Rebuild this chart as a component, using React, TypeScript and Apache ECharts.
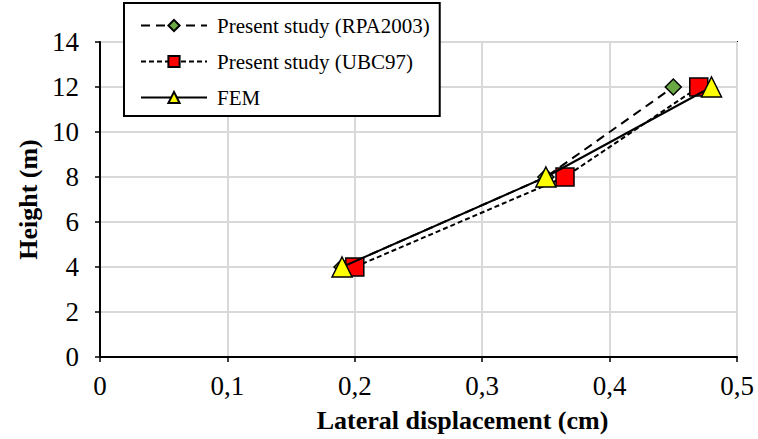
import React, { useEffect, useRef } from "react";
import * as echarts from "echarts";

const heights = [4, 8, 12];
const rpa2003 = [0.19, 0.35, 0.45];
const ubc97 = [0.2, 0.365, 0.47];
const fem = [0.19, 0.35, 0.48];
const xTicks = ["0", "0,1", "0,2", "0,3", "0,4", "0,5"];

const FONT = "Liberation Serif, serif";

export default function App() {
  const ref = useRef<HTMLDivElement>(null);
  useEffect(() => {
    if (!ref.current) return;
    const chart = echarts.init(ref.current, undefined, { renderer: "svg" });
    const pair = (xs: number[]) => xs.map((x, i) => [x, heights[i]]);
    chart.setOption({
      animation: false,
      backgroundColor: "#ffffff",
      textStyle: { fontFamily: FONT },
      grid: {
        left: 100,
        right: 21,
        top: 42,
        bottom: 82,
        show: true,
        borderColor: "#000",
        borderWidth: 2,
      },
      legend: {
        orient: "vertical",
        left: 124,
        top: 3,
        padding: [12, 10, 8, 16],
        itemWidth: 66,
        itemHeight: 14,
        itemGap: 15,
        backgroundColor: "#fff",
        borderColor: "#000",
        borderWidth: 2,
        borderRadius: 0,
        textStyle: { fontFamily: FONT, fontSize: 21, color: "#000", padding: [0, 0, 0, 5] },
        data: ["Present study (RPA2003)", "Present study (UBC97)", "FEM"],
      },
      xAxis: {
        type: "value",
        min: 0,
        max: 0.5,
        interval: 0.1,
        name: "Lateral displacement (cm)",
        nameLocation: "middle",
        nameGap: 50,
        nameTextStyle: {
          fontFamily: FONT,
          fontSize: 26,
          fontWeight: "bold",
          color: "#000",
          padding: [0, 0, 0, 88],
        },
        axisLine: { show: true, onZero: false, lineStyle: { color: "#000", width: 2 } },
        axisTick: { show: true, length: 5, lineStyle: { color: "#000", width: 1.5 } },
        axisLabel: {
          margin: 15,
          fontFamily: FONT,
          fontSize: 27,
          color: "#000",
          formatter: (v: number) => xTicks[Math.round(v * 10)] ?? "",
        },
        splitLine: { show: true, lineStyle: { color: "#d9d9d9", width: 2 } },
      },
      yAxis: {
        type: "value",
        min: 0,
        max: 14,
        interval: 2,
        name: "Height (m)",
        nameLocation: "middle",
        nameGap: 57,
        nameTextStyle: { fontFamily: FONT, fontSize: 26, fontWeight: "bold", color: "#000" },
        axisLine: { show: true, onZero: false, lineStyle: { color: "#000", width: 2 } },
        axisTick: { show: true, length: 5, lineStyle: { color: "#000", width: 1.5 } },
        axisLabel: { margin: 21, fontFamily: FONT, fontSize: 27, color: "#000" },
        splitLine: { show: true, lineStyle: { color: "#d9d9d9", width: 2 } },
      },
      series: [
        {
          name: "Present study (RPA2003)",
          type: "line",
          data: pair(rpa2003),
          symbol: "diamond",
          symbolSize: 16,
          lineStyle: { color: "#000", width: 2, type: [9, 6] },
          itemStyle: { color: "#6aa843", borderColor: "#000", borderWidth: 1.5 },
          z: 2,
        },
        {
          name: "Present study (UBC97)",
          type: "line",
          data: pair(ubc97),
          symbol: "rect",
          symbolSize: 18,
          lineStyle: { color: "#000", width: 2, type: [5, 3] },
          itemStyle: { color: "#ff0000", borderColor: "#000", borderWidth: 1.5 },
          z: 3,
        },
        {
          name: "FEM",
          type: "line",
          data: pair(fem),
          symbol: "triangle",
          symbolSize: 20,
          lineStyle: { color: "#000", width: 2 },
          itemStyle: { color: "#ffff00", borderColor: "#000", borderWidth: 1.5 },
          z: 4,
        },
      ],
    });
    return () => chart.dispose();
  }, []);
  return (
    <div
      ref={ref}
      style={{ position: "fixed", left: 0, top: 0, width: 758, height: 439, background: "#fff" }}
    />
  );
}
